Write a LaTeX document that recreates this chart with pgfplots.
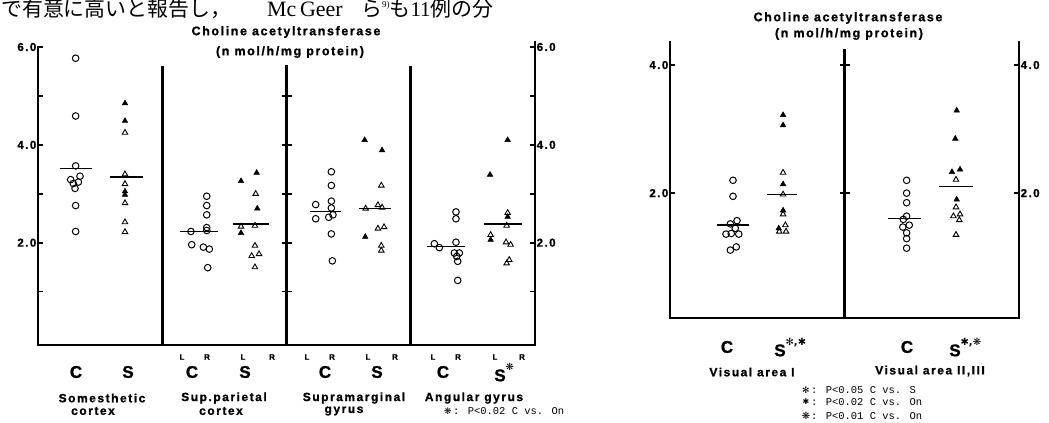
\documentclass[border=0pt]{standalone}
\usepackage{pgfplots}
\pgfplotsset{compat=1.18}
\usepackage{fontspec}
\newfontfamily\lab[LetterSpace=13, BoldFeatures={FakeBold=1.2}]{Liberation Sans}
\newfontfamily\mono{Liberation Mono}
\newfontfamily\sym{DejaVu Sans}
\newfontfamily\cjk{Noto Sans CJK JP}
\newfontfamily\ser{Liberation Serif}
\newcommand{\fs}[1]{\fontsize{#1}{#1}\selectfont}
\newcommand{\bsf}[1]{\lab\bfseries\fs{#1}}
\newcommand{\st}[1]{\rlap{\raisebox{1.25ex}{\sym\fs{10}#1}}}

\tikzset{
  fr/.style={black, line width=2.6bp, line cap=rect},
  tk/.style={black, line width=1.6bp},
}
\pgfplotsset{
  panel/.style={
    scale only axis, anchor=south west, clip=false,
    xtick=\empty,
    axis line style={draw=none},
    tick align=inside,
    major tick length=5bp,
    major tick style={black, line width=1.6bp},
    yticklabel style={font=\bsf{11.5}, inner sep=1.5bp},
  },
  opc/.style={only marks, mark=o, mark size=3.3bp, mark options={line width=1bp, black}},
  opt/.style={only marks, mark=triangle, mark size=3.2bp, mark options={line width=0.9bp, black}},
  fit/.style={only marks, mark=triangle*, mark size=3.2bp, mark options={black, fill=black, line width=0.5bp}},
  mline/.style={black, line width=1.5bp, no marks},
}

\begin{document}
\begin{tikzpicture}
\useasboundingbox (0,0) rectangle (1049bp,423bp);

% ---------------- Left panel ----------------
\begin{axis}[panel, at={(38bp,78bp)}, width=497bp, height=298bp,
  xmin=0, xmax=4, ymin=-0.09, ymax=6.0,
  ytick={1,2,3,4,5,6}, yticklabels={,2.0,,4.0,,6.0}, ytick pos=left]
% Somesthetic cortex
\addplot[opc] coordinates {(0.303,5.77)(0.303,4.59)(0.303,3.57)(0.263,3.29)(0.338,3.36)(0.284,3.21)(0.325,3.24)(0.298,3.11)(0.303,2.76)(0.303,2.23)};
\addplot[opt] coordinates {(0.700,4.25)(0.700,3.40)(0.700,3.20)(0.700,2.81)(0.700,2.42)(0.700,2.22)};
\addplot[fit] coordinates {(0.700,4.85)(0.700,4.49)(0.700,3.05)(0.700,2.98)};
\addplot[mline] coordinates {(0.177,3.52)(0.435,3.52)};
\addplot[mline] coordinates {(0.579,3.34)(0.845,3.34)};
% Sup. parietal cortex
\addplot[opc] coordinates {(1.358,2.95)(1.358,2.76)(1.358,2.57)(1.358,2.31)(1.358,2.25)(1.231,2.23)(1.237,1.96)(1.331,1.91)(1.379,1.87)(1.366,1.49)};
\addplot[fit] coordinates {(1.760,3.43)(1.634,3.26)(1.765,2.70)(1.634,2.20)};
\addplot[opt] coordinates {(1.752,3.00)(1.746,2.35)(1.634,2.33)(1.746,1.94)(1.720,1.73)(1.779,1.77)(1.746,1.50)};
\addplot[mline] coordinates {(1.143,2.23)(1.449,2.23)};
\addplot[mline] coordinates {(1.569,2.38)(1.859,2.38)};
% Supramarginal gyrus
\addplot[opc] coordinates {(2.361,3.45)(2.361,3.17)(2.361,2.85)(2.361,2.71)(2.235,2.78)(2.235,2.49)(2.340,2.52)(2.374,2.57)(2.361,2.18)(2.369,1.63)};
\addplot[fit] coordinates {(2.629,4.10)(2.769,3.89)(2.634,2.12)};
\addplot[opt] coordinates {(2.763,3.17)(2.736,2.77)(2.769,2.72)(2.637,2.70)(2.736,2.29)(2.785,2.32)(2.763,1.94)(2.763,1.84)};
\addplot[mline] coordinates {(2.189,2.64)(2.439,2.64)};
\addplot[mline] coordinates {(2.584,2.70)(2.841,2.70)};
% Angular gyrus
\addplot[opc] coordinates {(3.364,2.63)(3.364,2.49)(3.190,1.98)(3.230,1.90)(3.364,2.01)(3.351,1.79)(3.391,1.79)(3.370,1.72)(3.378,1.62)(3.378,1.23)};
\addplot[fit] coordinates {(3.780,4.10)(3.638,3.39)(3.780,2.53)(3.643,2.06)};
\addplot[opt] coordinates {(3.780,2.61)(3.772,2.35)(3.643,2.16)(3.767,2.01)(3.804,1.96)(3.772,1.58)(3.793,1.65)};
\addplot[mline] coordinates {(3.131,1.92)(3.437,1.92)};
\addplot[mline] coordinates {(3.590,2.38)(3.895,2.38)};
% frame and dividers
\draw[fr] (axis cs:0,6.0) -- (axis cs:0,-0.09) -- (axis cs:4,-0.09) -- (axis cs:4,6.1);
\draw[fr] (axis cs:1,-0.09) -- (axis cs:1,5.58);
\draw[fr] (axis cs:2,-0.09) -- (axis cs:2,5.60);
\draw[fr] (axis cs:3,-0.09) -- (axis cs:3,5.58);
\pgfplotsinvokeforeach{1,2,3,4,5}{
  \draw[tk] ([xshift=-5bp]axis cs:2,#1) -- ([xshift=5bp]axis cs:2,#1);
}
\end{axis}
\begin{axis}[panel, at={(38bp,78bp)}, width=497bp, height=298bp,
  xmin=0, xmax=4, ymin=-0.09, ymax=6.0,
  ytick={1,2,3,4,5,6}, yticklabels={,2.0,,4.0,,6.0}, ytick pos=right, yticklabel pos=right]
\addplot[draw=none, no marks] coordinates {(0,0)(4,0)};
\end{axis}

% ---------------- Right panel ----------------
\begin{axis}[panel, at={(670bp,105bp)}, width=349bp, height=276bp,
  xmin=0, xmax=2, ymin=0.05, ymax=4.36,
  ytick={2,4}, yticklabels={2.0,4.0}, ytick pos=left]
% Visual area I
\addplot[opc] coordinates {(0.361,2.20)(0.361,1.95)(0.384,1.57)(0.346,1.52)(0.374,1.45)(0.321,1.36)(0.351,1.37)(0.394,1.36)(0.346,1.11)(0.380,1.16)};
\addplot[fit] coordinates {(0.648,3.22)(0.648,3.06)(0.648,2.14)(0.648,1.73)(0.623,1.45)};
\addplot[opt] coordinates {(0.648,2.32)(0.648,1.98)(0.648,1.67)(0.661,1.50)(0.665,1.40)(0.626,1.40)};
\addplot[mline] coordinates {(0.269,1.50)(0.453,1.50)};
\addplot[mline] coordinates {(0.556,1.98)(0.728,1.98)};
% Visual area II,III
\addplot[opc] coordinates {(1.356,2.20)(1.356,2.00)(1.356,1.85)(1.356,1.64)(1.337,1.59)(1.334,1.47)(1.371,1.50)(1.356,1.38)(1.356,1.29)(1.356,1.14)};
\addplot[fit] coordinates {(1.643,3.29)(1.635,2.85)(1.616,2.33)(1.662,2.37)(1.643,1.90)};
\addplot[opt] coordinates {(1.639,2.21)(1.639,1.78)(1.624,1.64)(1.662,1.67)(1.658,1.58)(1.639,1.35)};
\addplot[mline] coordinates {(1.249,1.60)(1.438,1.60)};
\addplot[mline] coordinates {(1.542,2.10)(1.736,2.10)};
\draw[fr] (axis cs:0,4.36) -- (axis cs:0,0.05) -- (axis cs:2,0.05) -- (axis cs:2,4.36);
\draw[fr] (axis cs:1,0.05) -- (axis cs:1,4.23);
\pgfplotsinvokeforeach{2,4}{
  \draw[tk] ([xshift=-5bp]axis cs:1,#1) -- ([xshift=5bp]axis cs:1,#1);
}
\end{axis}
\begin{axis}[panel, at={(670bp,105bp)}, width=349bp, height=276bp,
  xmin=0, xmax=2, ymin=0.05, ymax=4.36,
  ytick={2,4}, yticklabels={2.0,4.0}, ytick pos=right, yticklabel pos=right]
\addplot[draw=none, no marks] coordinates {(0,1)(2,1)};
\end{axis}

% ---------------- Text (pixel coordinates) ----------------
\begin{scope}[shift={(0bp,423bp)}, x=1bp, y=-1bp, every node/.style={inner sep=0pt}]
% body text at top
\node[anchor=base west] at (1,17) {\cjk\fs{21}で有意に高いと報告し，};
\node[anchor=base west] at (267,17) {\ser\fs{22}Mc\,Geer};
\node[anchor=base west] at (361,17) {\cjk\fs{21}ら\raisebox{0.8ex}{\ser\fs{9}9)}も\ser 11\cjk 例の分};
% titles
\node[font=\bsf{12.5}] at (286,32) {Choline acetyltransferase};
\node[font=\bsf{12.5}] at (290,52) {(n mol/h/mg protein)};
\node[font=\bsf{12.5}] at (848,18) {Choline acetyltransferase};
\node[font=\bsf{12.5}] at (849,34) {(n mol/h/mg protein)};
% left panel: L/R
\foreach \xx/\tt in {182/L,207/R,243/L,272/R,307/L,332/R,368/L,395/R,433/L,458/R,495/L,522/R}
  \node[font=\bsf{8}] at (\xx,357) {\tt};
% left panel: C/S
\foreach \xx/\tt in {76/C,128/S,192/C,245/S,325/C,377/S,443/C}
  \node[font=\bsf{17}] at (\xx,372) {\tt};
\node[font=\bsf{17}] at (500,372) {S\st{❋}};
% group names
\node[font=\bsf{12}] at (102,398) {Somesthetic};
\node[font=\bsf{12}] at (93,411) {cortex};
\node[font=\bsf{12}] at (224,398) {Sup.parietal};
\node[font=\bsf{12}] at (221,411) {cortex};
\node[font=\bsf{12}] at (354,398) {Supramarginal};
\node[font=\bsf{12}] at (344,411) {gyrus};
\node[font=\bsf{12}] at (474,398) {Angular gyrus};
\node[font=\sym\fs{9}] at (448,411) {❋};
\node[anchor=west, font=\mono\fs{10.5}] at (453,411) {: P<0.02 C vs. On};
% right panel labels
\node[font=\bsf{17}] at (727,347) {C};
\node[font=\bsf{17}] at (780,347) {S\st{✻,✱}};
\node[font=\bsf{17}] at (907,347) {C};
\node[font=\bsf{17}] at (955,347) {S\st{✱,❋}};
\node[font=\bsf{12}] at (752,372) {Visual area I};
\node[font=\bsf{12}] at (930,371) {Visual area II,III};
% legend
\node[font=\sym\fs{9}] at (806,390) {✻};
\node[anchor=west, font=\mono\fs{10.5}] at (811,390) {: P<0.05 C vs. S};
\node[font=\sym\fs{8}] at (806,402) {✱};
\node[anchor=west, font=\mono\fs{10.5}] at (811,402) {: P<0.02 C vs. On};
\node[font=\sym\fs{10}] at (806,416) {❋};
\node[anchor=west, font=\mono\fs{10.5}] at (811,416) {: P<0.01 C vs. On};
\end{scope}
\end{tikzpicture}
\end{document}
